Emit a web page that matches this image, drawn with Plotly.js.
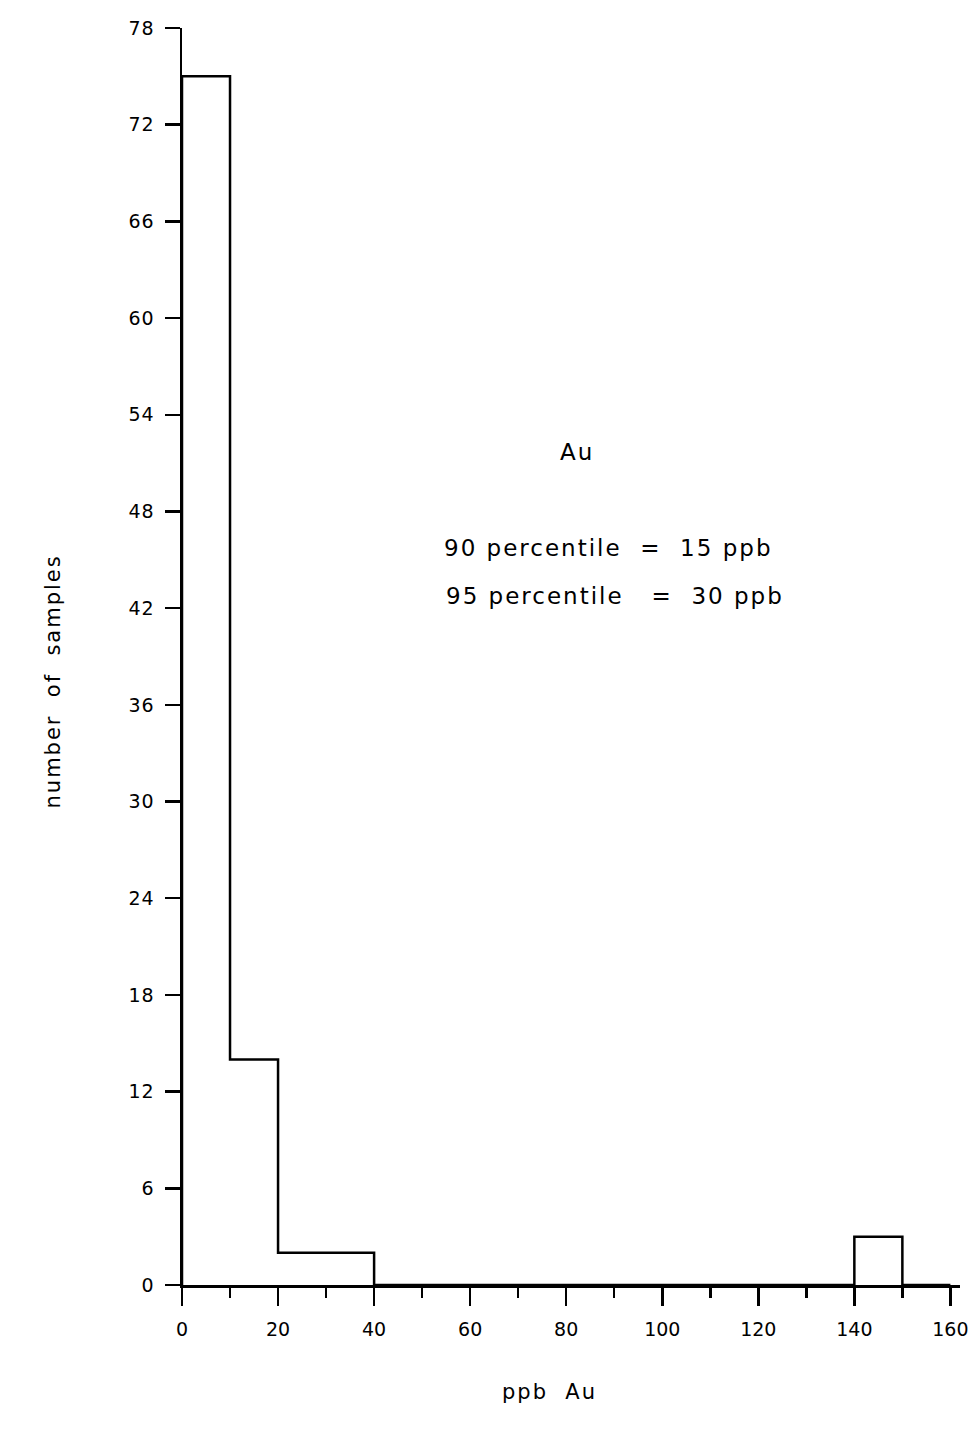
<!DOCTYPE html>
<html>
<head>
<meta charset="utf-8">
<script src="https://cdn.plot.ly/plotly-3.0.1.min.js"></script>
<style>
  html, body { margin: 0; padding: 0; background: #fff; }
  #chart { width: 971px; height: 1437px; }
  #chart .annotation-text { letter-spacing: 2px; }
  #chart .ytick text { letter-spacing: 1px; }
</style>
</head>
<body>
<div id="chart"></div>
<script>
// Histogram of Au (ppb), bins of width 10
const binEdges = [0, 10, 20, 30, 40, 50, 60, 70, 80, 90, 100, 110, 120, 130, 140, 150, 160];
const counts   = [75, 14, 2, 2, 0, 0, 0, 0, 0, 0, 0, 0, 0, 0, 3, 0];
const yTickVals = [0, 6, 12, 18, 24, 30, 36, 42, 48, 54, 60, 66, 72, 78];
const xTickVals = [0, 20, 40, 60, 80, 100, 120, 140, 160];
const xTickText = ["0", "20", "40", "60", "80", "100", "120", "140", "160"];
const notes = ["Au", "90 percentile\u00a0 = \u00a015 ppb", "95 percentile\u00a0\u00a0 = \u00a030 ppb"];

// step outline built from the bins
const stepX = [binEdges[0]].concat(binEdges);
const stepY = [0].concat(counts, [counts[counts.length - 1]]);

const FONT = "'DejaVu Sans', Verdana, sans-serif";

const trace = {
  type: "scatter",
  mode: "lines",
  x: stepX,
  y: stepY,
  line: { shape: "hv", color: "#000", width: 2.5 },
  hoverinfo: "skip",
  showlegend: false
};

const layout = {
  width: 971,
  height: 1437,
  margin: { l: 182, r: 11, t: 28, b: 152 },
  paper_bgcolor: "#fff",
  plot_bgcolor: "#fff",
  font: { family: FONT, color: "#000", size: 19 },
  showlegend: false,
  xaxis: {
    range: [0, 162],
    showgrid: false,
    zeroline: false,
    showline: true,
    linecolor: "#000",
    linewidth: 2.5,
    ticks: "outside",
    ticklen: 18,
    tickwidth: 2.5,
    tickcolor: "#000",
    tickvals: xTickVals,
    ticktext: xTickText,
    ticklabelstandoff: 8,
    ticklabeloverflow: "allow",
    tickfont: { family: FONT, size: 19, color: "#000" },
    minor: { tickvals: [10, 30, 50, 70, 90, 110, 130, 150], ticks: "outside", ticklen: 10, tickwidth: 2.5, tickcolor: "#000", showgrid: false },
    fixedrange: true
  },
  yaxis: {
    range: [0, 78],
    showgrid: false,
    zeroline: false,
    showline: true,
    linecolor: "#000",
    linewidth: 2.5,
    ticks: "outside",
    ticklen: 15,
    tickwidth: 2.5,
    tickcolor: "#000",
    tickvals: yTickVals,
    ticklabelstandoff: 6,
    tickfont: { family: FONT, size: 19, color: "#000" },
    fixedrange: true
  },
  annotations: [
    { xref: "paper", yref: "paper", x: 0.508, y: 0.663, text: notes[0], showarrow: false,
      xanchor: "center", yanchor: "middle", font: { family: FONT, size: 23, color: "#000" } },
    { xref: "paper", yref: "paper", x: 0.548, y: 0.586, text: notes[1], showarrow: false,
      xanchor: "center", yanchor: "middle", font: { family: FONT, size: 23, color: "#000" } },
    { xref: "paper", yref: "paper", x: 0.556, y: 0.548, text: notes[2], showarrow: false,
      xanchor: "center", yanchor: "middle", font: { family: FONT, size: 23, color: "#000" } },
    { xref: "paper", yref: "paper", x: 0.472, y: -0.085, text: "ppb\u00a0\u00a0Au", showarrow: false,
      xanchor: "center", yanchor: "middle", font: { family: FONT, size: 21, color: "#000" } },
    { xref: "paper", yref: "paper", x: -0.166, y: 0.48, text: "number\u00a0\u00a0of\u00a0\u00a0samples", showarrow: false,
      textangle: -90, xanchor: "center", yanchor: "middle", font: { family: FONT, size: 21, color: "#000" } }
  ]
};

Plotly.newPlot("chart", [trace], layout, { staticPlot: true, displayModeBar: false });
</script>
</body>
</html>
